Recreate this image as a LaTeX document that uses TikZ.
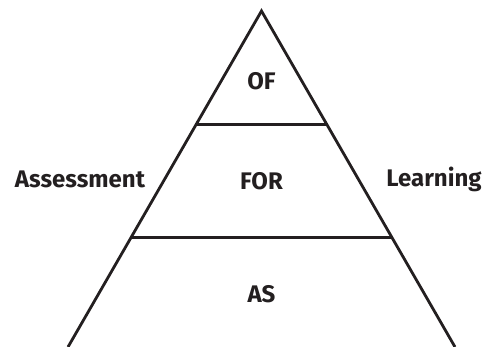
\documentclass[tikz,border=0pt]{standalone}
\usepackage{fontspec}
\setmainfont{Fira Sans}
\usetikzlibrary{calc}
\definecolor{ink}{HTML}{231F20}
\tikzset{
  layer/.style={font=\fontsize{24}{28}\selectfont\bfseries,text=ink,anchor=base,inner sep=0pt},
  edge/.style={line width=2.8pt,color=ink}
}
\begin{document}
\begin{tikzpicture}[line join=miter,x=1pt,y=1pt]
\useasboundingbox (0,0) rectangle (485,347);
\coordinate (apex) at (261.5,336);
\coordinate (bl) at (68,0);
\coordinate (br) at (455,0);
\coordinate (l1) at ($(apex)!0.339!(bl)$);
\coordinate (r1) at ($(apex)!0.339!(br)$);
\coordinate (l2) at ($(apex)!0.673!(bl)$);
\coordinate (r2) at ($(apex)!0.673!(br)$);
\draw [edge] (bl) -- (apex) -- (br);
\draw [edge] (l1) -- (r1);
\draw [edge] (l2) -- (r2);
\node[layer] (of) at (261.5,257) {OF};
\node[layer] (for) at (261.5,157) {FOR};
\node[layer] (as) at (261.5,44) {AS};
\node[layer] (assess) at (80,159) {Assessment};
\node[layer] (learn) at (434,160) {Learning};
\end{tikzpicture}
\end{document}
